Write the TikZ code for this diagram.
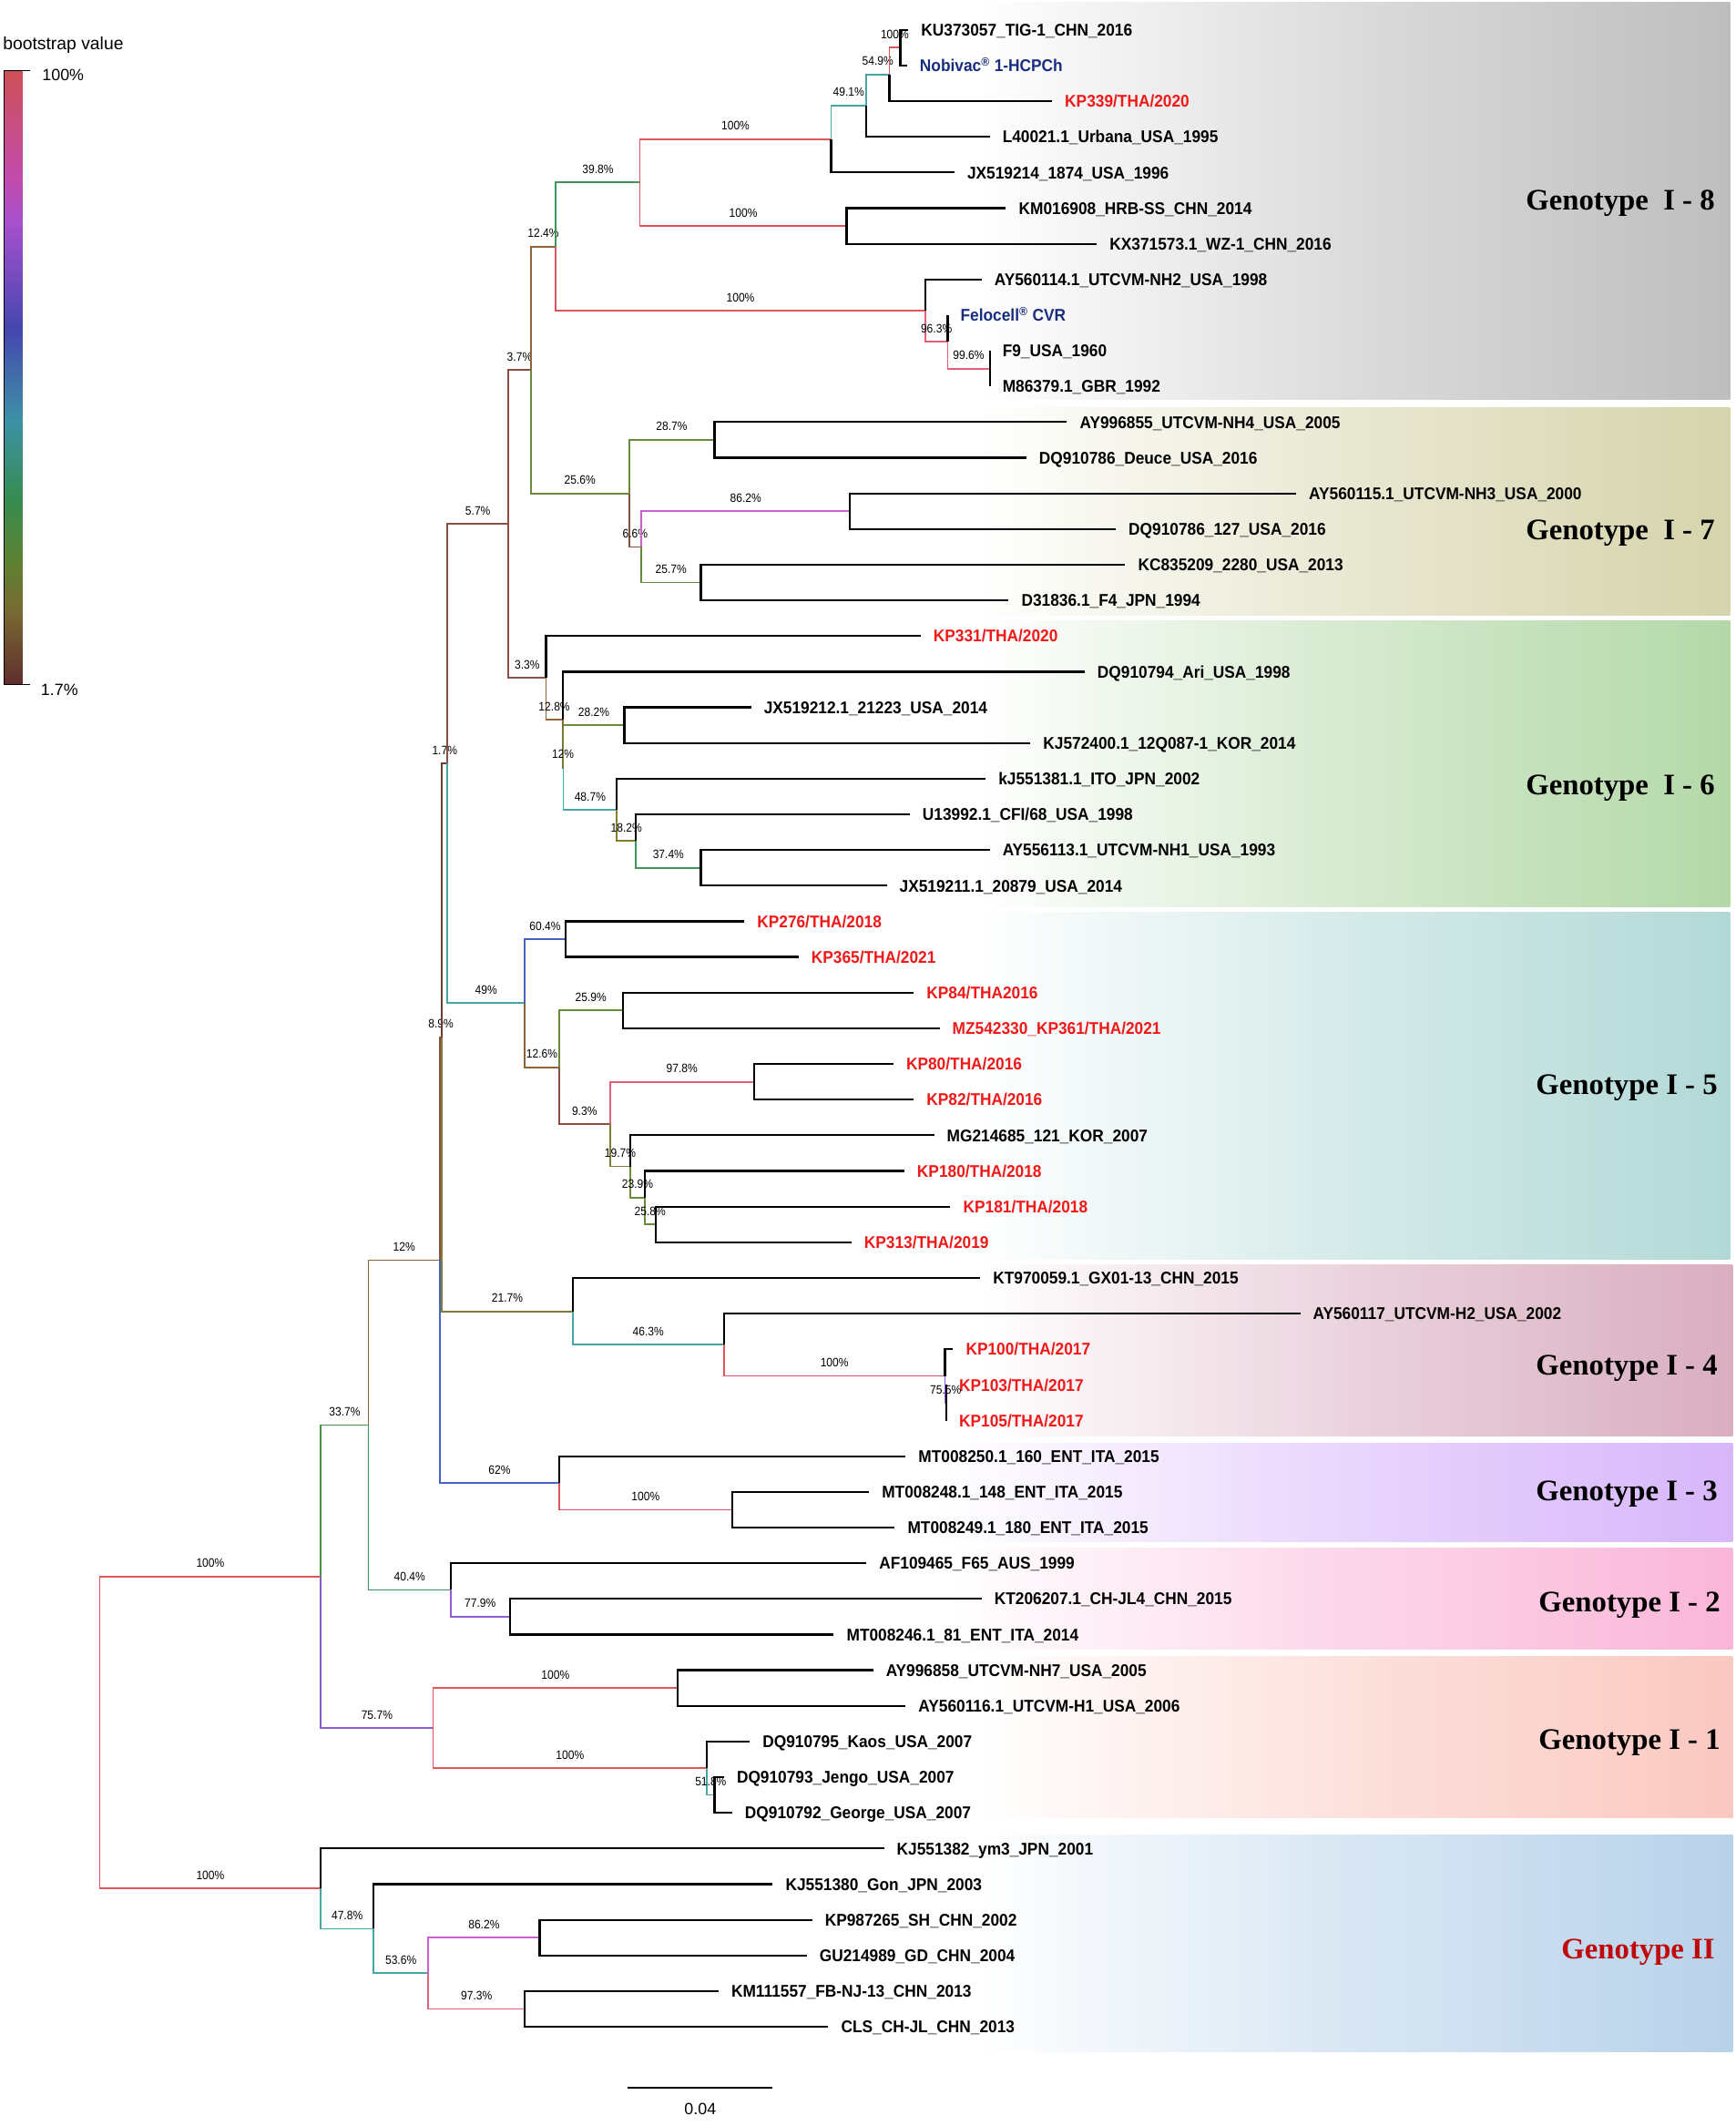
\documentclass[tikz,border=0pt]{standalone}
\usepackage{fontspec}
\setmainfont{Liberation Sans}
\newfontfamily\taxfont[FakeStretch=0.93]{Liberation Sans}
\newfontfamily\bootfont[FakeStretch=0.9]{Liberation Sans}
\newfontfamily\genofont{Liberation Serif}
\usepackage{xcolor}
\usepackage{tikz}
\usetikzlibrary{positioning}

% branch colours, by bootstrap value
\definecolor{c100}{RGB}{222,86,90}
\definecolor{c97}{RGB}{225,95,120}
\definecolor{c86}{RGB}{205,95,210}
\definecolor{c76}{RGB}{145,90,215}
\definecolor{c62}{RGB}{70,100,195}
\definecolor{c50}{RGB}{70,165,165}
\definecolor{c40}{RGB}{60,150,90}
\definecolor{c34}{RGB}{70,150,70}
\definecolor{c26}{RGB}{105,140,60}
\definecolor{c20}{RGB}{130,125,50}
\definecolor{c12}{RGB}{140,100,55}
\definecolor{c05}{RGB}{135,80,65}
\definecolor{c02}{RGB}{110,60,55}
\definecolor{thared}{RGB}{240,25,25}
\definecolor{vacblue}{RGB}{25,45,125}
\definecolor{genored}{RGB}{190,10,10}
% genotype bands
\definecolor{gI8}{RGB}{190,190,190}
\definecolor{gI7}{RGB}{214,212,172}
\definecolor{gI6}{RGB}{180,216,168}
\definecolor{gI5}{RGB}{178,217,215}
\definecolor{gI4}{RGB}{217,174,192}
\definecolor{gI3}{RGB}{215,182,250}
\definecolor{gI2}{RGB}{250,182,216}
\definecolor{gI1}{RGB}{250,200,192}
\definecolor{gII}{RGB}{184,210,234}
% legend bar
\definecolor{lg1}{RGB}{205,80,85}
\definecolor{lg2}{RGB}{195,75,170}
\definecolor{lg3}{RGB}{165,80,205}
\definecolor{lg4}{RGB}{70,70,175}
\definecolor{lg5}{RGB}{60,145,165}
\definecolor{lg6}{RGB}{55,140,80}
\definecolor{lg7}{RGB}{95,130,50}
\definecolor{lg8}{RGB}{120,105,50}
\definecolor{lg9}{RGB}{95,45,45}

\tikzset{
 taxon/.style={anchor=west, inner xsep=9.5pt, inner ysep=0pt, outer sep=0pt,
  text height=9pt, text depth=0pt, font=\taxfont\bfseries\fontsize{12.5}{14}\selectfont},
 thai/.style={taxon, text=thared},
 vac/.style={taxon, text=vacblue},
 leaf/.style={draw=black, line width=1.5pt},
 branch/.style={line width=1.2pt},
 b100/.style={branch, draw=c100},
 b97/.style={branch, draw=c97},
 b86/.style={branch, draw=c86},
 b76/.style={branch, draw=c76},
 b62/.style={branch, draw=c62},
 b50/.style={branch, draw=c50},
 b40/.style={branch, draw=c40},
 b34/.style={branch, draw=c34},
 b26/.style={branch, draw=c26},
 b20/.style={branch, draw=c20},
 b12/.style={branch, draw=c12},
 b05/.style={branch, draw=c05},
 b02/.style={branch, draw=c02},
 boot/.style={pos=0.75, anchor=south, inner sep=1pt, yshift=5pt, text=black,
  font=\bootfont\fontsize{9}{10}\selectfont},
 band/.style={left color=white, right color=#1, middle color=#1!55},
 geno/.style={anchor=east, inner sep=0pt, text height=14pt, text depth=0pt,
  font=\genofont\bfseries\fontsize{22}{24}\selectfont},
 legtext/.style={inner sep=0pt, font=\fontsize{12}{14}\selectfont}
}

\begin{document}
\begin{tikzpicture}[x=1pt, y=-1pt]
 \useasboundingbox (0, 0) rectangle (1280, 1568);

 % genotype bands
 \shade [band=gI8] (720, 2) rectangle (1276, 294.5);
 \shade [band=gI7] (720, 300.5) rectangle (1276, 453.5);
 \shade [band=gI6] (720, 458) rectangle (1276, 669);
 \shade [band=gI5] (720, 672.5) rectangle (1276, 928.5);
 \shade [band=gI4] (720, 933) rectangle (1278, 1059);
 \shade [band=gI3] (690, 1064.5) rectangle (1278, 1137);
 \shade [band=gI2] (700, 1142) rectangle (1278, 1216);
 \shade [band=gI1] (720, 1222) rectangle (1278, 1340.5);
 \shade [band=gII] (720, 1353.5) rectangle (1278, 1513);

 \node [geno] (gtI8) at (1265, 148) {Genotype\ \ I - 8};
 \node [geno] (gtI7) at (1265, 391) {Genotype\ \ I - 7};
 \node [geno] (gtI6) at (1265, 579) {Genotype\ \ I - 6};
 \node [geno] (gtI5) at (1267, 800) {Genotype I - 5};
 \node [geno] (gtI4) at (1267, 1007) {Genotype I - 4};
 \node [geno] (gtI3) at (1267, 1100) {Genotype I - 3};
 \node [geno] (gtI2) at (1269, 1182) {Genotype I - 2};
 \node [geno] (gtI1) at (1269, 1283) {Genotype I - 1};
 \node [geno, text=genored] (gtII) at (1265, 1438) {Genotype II};

 % legend
 \node [legtext, anchor=west, font=\fontsize{13}{15}\selectfont] (bslegend) at (2, 33) {bootstrap value};
 \shade [top color=lg1, bottom color=lg2] (3, 52) rectangle (16.5, 129);
 \shade [top color=lg2, bottom color=lg3] (3, 129) rectangle (16.5, 165);
 \shade [top color=lg3, bottom color=lg4] (3, 165) rectangle (16.5, 242);
 \shade [top color=lg4, bottom color=lg5] (3, 242) rectangle (16.5, 310);
 \shade [top color=lg5, bottom color=lg6] (3, 310) rectangle (16.5, 369);
 \shade [top color=lg6, bottom color=lg7] (3, 369) rectangle (16.5, 414);
 \shade [top color=lg7, bottom color=lg8] (3, 414) rectangle (16.5, 451);
 \shade [top color=lg8, bottom color=lg9] (3, 451) rectangle (16.5, 505);
 \coordinate (bartop) at (3, 52);
 \coordinate (barbot) at (3, 505);
 \coordinate (ticktop) at (22, 52);
 \coordinate (tickbot) at (22, 505);
 \draw [line width=1pt] (ticktop) -- (bartop) -- (barbot) -- (tickbot);
 \node [legtext, anchor=west] (leg100) at (31, 55) {100\%};
 \node [legtext, anchor=west] (leg17) at (30, 509) {1.7\%};

 % scale bar
 \coordinate (sbl) at (463, 1540);
 \coordinate (sbr) at (570, 1540);
 \coordinate (sbmid) at (516.5, 1540);
 \draw [line width=1.2pt] (sbl) -- (sbr);
 \node [legtext, below=11pt of sbmid] (sblabel) {0.04};

 % taxa
 \node [taxon] (ku373057) at (670, 22) {KU373057\_TIG-1\_CHN\_2016};
 \node [vac] (nobivac) at (669, 48.3) {Nobivac\textsuperscript{\textregistered} 1-HCPCh};
 \node [thai] (kp339) at (776, 74.6) {KP339/THA/2020};
 \node [taxon] (l40021) at (730, 100.9) {L40021.1\_Urbana\_USA\_1995};
 \node [taxon] (jx519214) at (704, 127.2) {JX519214\_1874\_USA\_1996};
 \node [taxon] (km016908) at (742, 153.5) {KM016908\_HRB-SS\_CHN\_2014};
 \node [taxon] (kx371573) at (809, 179.8) {KX371573.1\_WZ-1\_CHN\_2016};
 \node [taxon] (ay560114) at (724, 206.1) {AY560114.1\_UTCVM-NH2\_USA\_1998};
 \node [vac] (felocell) at (699, 232.4) {Felocell\textsuperscript{\textregistered} CVR};
 \node [taxon] (f9) at (730, 258.7) {F9\_USA\_1960};
 \node [taxon] (m86379) at (730, 285) {M86379.1\_GBR\_1992};
 \node [taxon] (ay996855) at (787, 311.3) {AY996855\_UTCVM-NH4\_USA\_2005};
 \node [taxon] (dqdeuce) at (757, 337.6) {DQ910786\_Deuce\_USA\_2016};
 \node [taxon] (ay560115) at (956, 363.9) {AY560115.1\_UTCVM-NH3\_USA\_2000};
 \node [taxon] (dq127) at (823, 390.2) {DQ910786\_127\_USA\_2016};
 \node [taxon] (kc835209) at (830, 416.5) {KC835209\_2280\_USA\_2013};
 \node [taxon] (d31836) at (744, 442.8) {D31836.1\_F4\_JPN\_1994};
 \node [thai] (kp331) at (679, 469.1) {KP331/THA/2020};
 \node [taxon] (dq910794) at (800, 495.4) {DQ910794\_Ari\_USA\_1998};
 \node [taxon] (jx519212) at (554, 521.7) {JX519212.1\_21223\_USA\_2014};
 \node [taxon] (kj572400) at (760, 548) {KJ572400.1\_12Q087-1\_KOR\_2014};
 \node [taxon] (kj551381) at (727, 574.3) {kJ551381.1\_ITO\_JPN\_2002};
 \node [taxon] (u13992) at (671, 600.6) {U13992.1\_CFI/68\_USA\_1998};
 \node [taxon] (ay556113) at (730, 626.9) {AY556113.1\_UTCVM-NH1\_USA\_1993};
 \node [taxon] (jx519211) at (654, 653.2) {JX519211.1\_20879\_USA\_2014};
 \node [thai] (kp276) at (549, 679.5) {KP276/THA/2018};
 \node [thai] (kp365) at (589, 705.8) {KP365/THA/2021};
 \node [thai] (kp84) at (674, 732.1) {KP84/THA2016};
 \node [thai] (mz542330) at (693, 758.4) {MZ542330\_KP361/THA/2021};
 \node [thai] (kp80) at (659, 784.7) {KP80/THA/2016};
 \node [thai] (kp82) at (674, 811) {KP82/THA/2016};
 \node [taxon] (mg214685) at (689, 837.3) {MG214685\_121\_KOR\_2007};
 \node [thai] (kp180) at (667, 863.6) {KP180/THA/2018};
 \node [thai] (kp181) at (701, 889.9) {KP181/THA/2018};
 \node [thai] (kp313) at (628, 916.2) {KP313/THA/2019};
 \node [taxon] (kt970059) at (723, 942.5) {KT970059.1\_GX01-13\_CHN\_2015};
 \node [taxon] (ay560117) at (959, 968.8) {AY560117\_UTCVM-H2\_USA\_2002};
 \node [thai] (kp100) at (703, 995.1) {KP100/THA/2017};
 \node [thai] (kp103) at (698, 1021.4) {KP103/THA/2017};
 \node [thai] (kp105) at (698, 1047.7) {KP105/THA/2017};
 \node [taxon] (mt008250) at (668, 1074) {MT008250.1\_160\_ENT\_ITA\_2015};
 \node [taxon] (mt008248) at (641, 1100.3) {MT008248.1\_148\_ENT\_ITA\_2015};
 \node [taxon] (mt008249) at (660, 1126.6) {MT008249.1\_180\_ENT\_ITA\_2015};
 \node [taxon] (af109465) at (639, 1152.9) {AF109465\_F65\_AUS\_1999};
 \node [taxon] (kt206207) at (724, 1179.2) {KT206207.1\_CH-JL4\_CHN\_2015};
 \node [taxon] (mt008246) at (615, 1205.5) {MT008246.1\_81\_ENT\_ITA\_2014};
 \node [taxon] (ay996858) at (644, 1231.8) {AY996858\_UTCVM-NH7\_USA\_2005};
 \node [taxon] (ay560116) at (668, 1258.1) {AY560116.1\_UTCVM-H1\_USA\_2006};
 \node [taxon] (dqkaos) at (553, 1284.4) {DQ910795\_Kaos\_USA\_2007};
 \node [taxon] (dqjengo) at (534, 1310.7) {DQ910793\_Jengo\_USA\_2007};
 \node [taxon] (dqgeorge) at (540, 1337) {DQ910792\_George\_USA\_2007};
 \node [taxon] (kj551382) at (652, 1363.3) {KJ551382\_ym3\_JPN\_2001};
 \node [taxon] (kj551380) at (570, 1389.6) {KJ551380\_Gon\_JPN\_2003};
 \node [taxon] (kp987265) at (599, 1415.9) {KP987265\_SH\_CHN\_2002};
 \node [taxon] (gu214989) at (595, 1442.2) {GU214989\_GD\_CHN\_2004};
 \node [taxon] (km111557) at (530, 1468.5) {KM111557\_FB-NJ-13\_CHN\_2013};
 \node [taxon] (clschjl) at (611, 1494.8) {CLS\_CH-JL\_CHN\_2013};

 % inner nodes
 \coordinate (n1) at (664, 35.15);
 \coordinate (n2) at (656, 54.9);
 \coordinate (n3) at (639, 77.9);
 \coordinate (n4) at (613, 102.55);
 \coordinate (n5) at (624.5, 166.65);
 \coordinate (a1) at (472, 134.6);
 \coordinate (n8) at (730, 271.85);
 \coordinate (n7) at (699, 252.1);
 \coordinate (n6) at (682.4, 229.1);
 \coordinate (a2) at (410, 181.85);
 \coordinate (g7a) at (527, 324.45);
 \coordinate (g7b) at (627, 377.05);
 \coordinate (g7c) at (517, 429.65);
 \coordinate (g7d) at (473, 403.35);
 \coordinate (a4) at (464, 363.9);
 \coordinate (a3) at (391.5, 272.9);
 \coordinate (b7) at (517, 640.05);
 \coordinate (b6) at (469, 620.3);
 \coordinate (b5) at (455, 597.3);
 \coordinate (b4) at (460.5, 534.85);
 \coordinate (b3) at (415.5, 566.1);
 \coordinate (b2) at (415, 530.75);
 \coordinate (b1) at (402.7, 499.9);
 \coordinate (a5) at (375, 386.4);
 \coordinate (c2) at (417, 692.65);
 \coordinate (c4) at (459.4, 745.25);
 \coordinate (c6) at (556, 797.85);
 \coordinate (c9) at (483.6, 903.05);
 \coordinate (c8) at (475.5, 883.3);
 \coordinate (c7) at (465, 860.3);
 \coordinate (c5) at (450, 829.1);
 \coordinate (c3) at (412.3, 787.2);
 \coordinate (c1) at (387.2, 739.9);
 \coordinate (a6) at (330, 563.15);
 \coordinate (d5) at (698, 1034.55);
 \coordinate (d4) at (697, 1014.8);
 \coordinate (d3) at (534, 991.8);
 \coordinate (d1) at (422.4, 967.15);
 \coordinate (a7) at (326, 765.15);
 \coordinate (d6) at (540, 1113.45);
 \coordinate (d2) at (412.5, 1093.7);
 \coordinate (a8) at (324.5, 929.4);
 \coordinate (e2) at (376, 1192.35);
 \coordinate (e1) at (332.5, 1172.6);
 \coordinate (a9) at (271.8, 1051);
 \coordinate (f2) at (500, 1244.95);
 \coordinate (f4) at (527, 1323.85);
 \coordinate (f3) at (521.5, 1304.1);
 \coordinate (f1) at (319.4, 1274.5);
 \coordinate (a10) at (236.7, 1162.75);
 \coordinate (h4) at (398, 1429.05);
 \coordinate (h5) at (387, 1481.65);
 \coordinate (h3) at (316, 1455.35);
 \coordinate (h2) at (275.4, 1422.5);
 \coordinate (h1) at (236.7, 1392.9);
 \coordinate (root) at (73.6, 1277.8);

 % coloured branches
 \draw [b100] (root) |- (a10) node [boot] {100\%};
 \draw [b100] (root) |- (h1) node [boot] {100\%};
 \draw [b34] (a10) |- (a9) node [boot] {33.7\%};
 \draw [b76] (a10) |- (f1) node [boot] {75.7\%};
 \draw [b12] (a9) |- (a8) node [boot] {12\%};
 \draw [b40] (a9) |- (e1) node [boot] {40.4\%};
 \draw [b62] (a8) |- (d2) node [boot] {62\%};
 \draw [b20] (a7) |- (d1) node [boot] {21.7\%};
 \draw [b05] (a8) |- (a7) node [boot] {8.9\%};
 \draw [b02] (a7) |- (a6) node [boot] {1.7\%};
 \draw [b05] (a6) |- (a5) node [boot] {5.7\%};
 \draw [b50] (a6) |- (c1) node [boot] {49\%};
 \draw [b05] (a5) |- (a3) node [boot] {3.7\%};
 \draw [b05] (a5) |- (b1) node [boot] {3.3\%};
 \draw [b12] (a3) |- (a2) node [boot] {12.4\%};
 \draw [b26] (a3) |- (a4) node [boot] {25.6\%};
 \draw [b40] (a2) |- (a1) node [boot] {39.8\%};
 \draw [b100] (a2) |- (n6) node [boot] {100\%};
 \draw [b100] (a1) |- (n4) node [boot] {100\%};
 \draw [b100] (a1) |- (n5) node [boot] {100\%};
 \draw [b50] (n4) |- (n3) node [boot] {49.1\%};
 \draw [b50] (n3) |- (n2) node [boot] {54.9\%};
 \draw [b100] (n2) |- (n1) node [boot] {100\%};
 \draw [b97] (n6) |- (n7) node [boot] {96.3\%};
 \draw [b97] (n7) |- (n8) node [boot] {99.6\%};
 \draw [b26] (a4) |- (g7a) node [boot] {28.7\%};
 \draw [b05] (a4) |- (g7d) node [boot] {6.6\%};
 \draw [b86] (g7d) |- (g7b) node [boot] {86.2\%};
 \draw [b26] (g7d) |- (g7c) node [boot] {25.7\%};
 \draw [b12] (b1) |- (b2) node [boot] {12.8\%};
 \draw [b12] (b2) |- (b3) node [boot] {12\%};
 \draw [b26] (b3) |- (b4) node [boot] {28.2\%};
 \draw [b50] (b3) |- (b5) node [boot] {48.7\%};
 \draw [b20] (b5) |- (b6) node [boot] {18.2\%};
 \draw [b40] (b6) |- (b7) node [boot] {37.4\%};
 \draw [b62] (c1) |- (c2) node [boot] {60.4\%};
 \draw [b12] (c1) |- (c3) node [boot] {12.6\%};
 \draw [b26] (c3) |- (c4) node [boot] {25.9\%};
 \draw [b05] (c3) |- (c5) node [boot] {9.3\%};
 \draw [b97] (c5) |- (c6) node [boot] {97.8\%};
 \draw [b20] (c5) |- (c7) node [boot] {19.7\%};
 \draw [b26] (c7) |- (c8) node [boot] {23.9\%};
 \draw [b26] (c8) |- (c9) node [boot] {25.8\%};
 \draw [b50] (d1) |- (d3) node [boot] {46.3\%};
 \draw [b100] (d3) |- (d4) node [boot] {100\%};
 \draw [b76] (d4) |- (d5) node [boot] {75.5\%};
 \draw [b100] (d2) |- (d6) node [boot] {100\%};
 \draw [b76] (e1) |- (e2) node [boot] {77.9\%};
 \draw [b100] (f1) |- (f2) node [boot] {100\%};
 \draw [b100] (f1) |- (f3) node [boot] {100\%};
 \draw [b50] (f3) |- (f4) node [boot] {51.8\%};
 \draw [b50] (h1) |- (h2) node [boot] {47.8\%};
 \draw [b50] (h2) |- (h3) node [boot] {53.6\%};
 \draw [b86] (h3) |- (h4) node [boot] {86.2\%};
 \draw [b97] (h3) |- (h5) node [boot] {97.3\%};

 % leaves
 \draw [leaf] (n1) |- (ku373057.west);
 \draw [leaf] (n1) |- (nobivac.west);
 \draw [leaf] (n2) |- (kp339.west);
 \draw [leaf] (n3) |- (l40021.west);
 \draw [leaf] (n4) |- (jx519214.west);
 \draw [leaf] (n5) |- (km016908.west);
 \draw [leaf] (n5) |- (kx371573.west);
 \draw [leaf] (n6) |- (ay560114.west);
 \draw [leaf] (n7) |- (felocell.west);
 \draw [leaf] (n8) |- (f9.west);
 \draw [leaf] (n8) |- (m86379.west);
 \draw [leaf] (g7a) |- (ay996855.west);
 \draw [leaf] (g7a) |- (dqdeuce.west);
 \draw [leaf] (g7b) |- (ay560115.west);
 \draw [leaf] (g7b) |- (dq127.west);
 \draw [leaf] (g7c) |- (kc835209.west);
 \draw [leaf] (g7c) |- (d31836.west);
 \draw [leaf] (b1) |- (kp331.west);
 \draw [leaf] (b2) |- (dq910794.west);
 \draw [leaf] (b4) |- (jx519212.west);
 \draw [leaf] (b4) |- (kj572400.west);
 \draw [leaf] (b5) |- (kj551381.west);
 \draw [leaf] (b6) |- (u13992.west);
 \draw [leaf] (b7) |- (ay556113.west);
 \draw [leaf] (b7) |- (jx519211.west);
 \draw [leaf] (c2) |- (kp276.west);
 \draw [leaf] (c2) |- (kp365.west);
 \draw [leaf] (c4) |- (kp84.west);
 \draw [leaf] (c4) |- (mz542330.west);
 \draw [leaf] (c6) |- (kp80.west);
 \draw [leaf] (c6) |- (kp82.west);
 \draw [leaf] (c7) |- (mg214685.west);
 \draw [leaf] (c8) |- (kp180.west);
 \draw [leaf] (c9) |- (kp181.west);
 \draw [leaf] (c9) |- (kp313.west);
 \draw [leaf] (d1) |- (kt970059.west);
 \draw [leaf] (d3) |- (ay560117.west);
 \draw [leaf] (d4) |- (kp100.west);
 \draw [leaf] (d5) |- (kp103.west);
 \draw [leaf] (d5) |- (kp105.west);
 \draw [leaf] (d2) |- (mt008250.west);
 \draw [leaf] (d6) |- (mt008248.west);
 \draw [leaf] (d6) |- (mt008249.west);
 \draw [leaf] (e1) |- (af109465.west);
 \draw [leaf] (e2) |- (kt206207.west);
 \draw [leaf] (e2) |- (mt008246.west);
 \draw [leaf] (f2) |- (ay996858.west);
 \draw [leaf] (f2) |- (ay560116.west);
 \draw [leaf] (f3) |- (dqkaos.west);
 \draw [leaf] (f4) |- (dqjengo.west);
 \draw [leaf] (f4) |- (dqgeorge.west);
 \draw [leaf] (h1) |- (kj551382.west);
 \draw [leaf] (h2) |- (kj551380.west);
 \draw [leaf] (h4) |- (kp987265.west);
 \draw [leaf] (h4) |- (gu214989.west);
 \draw [leaf] (h5) |- (km111557.west);
 \draw [leaf] (h5) |- (clschjl.west);
\end{tikzpicture}
\end{document}
